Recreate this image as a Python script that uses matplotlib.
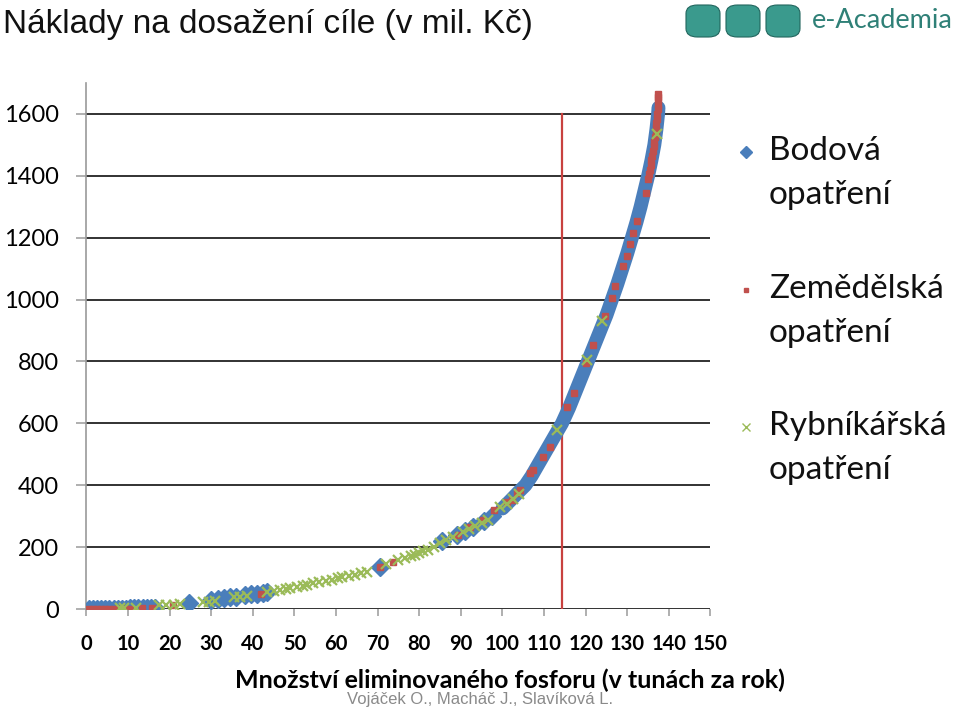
import matplotlib
matplotlib.use("Agg")
import matplotlib.pyplot as plt
from matplotlib.patches import FancyBboxPatch
from matplotlib.lines import Line2D

# ---------------- data ----------------
title = "Náklady na dosažení cíle (v mil. Kč)"
xlabel = "Množství eliminovaného fosforu (v tunách za rok)"
credit = "Vojáček O., Macháč J., Slavíková L."
series_names = ["Bodová\nopatření", "Zemědělská\nopatření", "Rybníkářská\nopatření"]

x_ticks = [0, 10, 20, 30, 40, 50, 60, 70, 80, 90, 100, 110, 120, 130, 140, 150]
y_ticks = [0, 200, 400, 600, 800, 1000, 1200, 1400, 1600]

# Bodová opatření (point sources) – isolated points
bod_x = [0.5, 1.5, 2.5, 3.5, 4.5, 5.5, 6.5, 7.5, 8.5, 9.5, 10.5, 11.5, 12.5, 13.5,
         14.5, 15.5, 16.5, 24.6, 30, 31.5, 33, 34.5, 36, 38, 39.5, 41, 42.5, 43.5,
         70.5, 85.5, 89, 91, 93, 95.5, 97.5]
bod_y = [0, 0, 0, 0.5, 0.5, 1, 1, 1, 1.5, 1.5, 2, 2, 2.5, 2.5,
         3, 3, 3.5, 19, 30, 33, 36, 38, 40, 44, 47, 50, 52, 54,
         135, 220, 240, 252, 265, 285, 300]
# Bodová opatření – dense run of points (upper part of the curve)
bod_dense_x = [100, 102, 104, 105.5, 107, 108.5, 110, 111.5, 113, 114.3, 116, 117.5,
               119, 120.5, 122, 123.5, 125, 126.3, 127.6, 128.8, 130, 131.1, 132.2,
               133.2, 134.1, 135, 135.8, 136.5, 137, 137.4, 137.5]
bod_dense_y = [325, 352, 380, 400, 430, 465, 500, 535, 570, 600, 650, 700,
               750, 800, 850, 900, 950, 1000, 1050, 1100, 1150, 1200, 1250,
               1300, 1350, 1400, 1450, 1500, 1550, 1600, 1620]

# Zemědělská opatření (agricultural)
zem_x = [0.5, 1.5, 2.5, 3.5, 4.5, 5.5, 6.5, 7.5, 8.5, 9.5, 10.5, 13.3, 15.7, 20.8,
         42.0, 70.5, 73.6, 89.3, 92.2, 95.3, 98, 101, 102.3, 103.5, 104.2, 106.6,
         107.3, 109.7, 111.4, 115.5, 117.2, 120, 121.8, 124.6, 126.3, 127, 129,
         130, 130.7, 131.4, 132.3, 134.5, 135, 135.2, 135.4, 135.6, 135.8, 136.0,
         136.2, 136.35, 136.5, 136.65, 136.8, 136.9, 137, 137.1, 137.2, 137.3,
         137.4, 137.45, 137.5, 137.5]
zem_y = [0, 0, 0, 0, 0.5, 0.5, 1, 1, 1, 1.5, 1.5, 3, 4, 13,
         48, 135, 152, 239, 265, 287, 319, 345, 352, 374, 384, 439,
         448, 490, 523, 652, 697, 794, 852, 948, 1006, 1045, 1110,
         1142, 1180, 1216, 1255, 1345, 1390, 1405, 1420, 1435, 1450, 1465,
         1480, 1495, 1510, 1525, 1540, 1555, 1570, 1585, 1600, 1615,
         1630, 1645, 1655, 1665]

# Rybníkářská opatření (fishponds)
ryb_x = [8, 9, 12, 17.5, 19, 21, 22.5, 28, 29.5, 31, 35.5, 37, 38.5, 43.5, 45,
         46.5, 48, 49, 50.5, 52, 53, 54.5, 56, 57.5, 59, 60.5, 61.5, 63, 64.5,
         66, 67.5, 72, 75, 76.5, 78, 79, 80, 81, 82, 83.5, 85, 86.5, 88, 90.5,
         92, 93.5, 95, 96.5, 99.5, 101, 102.5, 104, 113, 120.3, 124, 137.1]
ryb_y = [2, 2, 3, 12, 13, 14, 15, 22, 23, 25, 38, 40, 42, 55, 58,
         62, 65, 68, 71, 75, 79, 83, 87, 91, 95, 99, 103, 107, 111,
         116, 121, 145, 158, 164, 170, 175, 180, 186, 192, 200, 213, 222, 232, 248,
         258, 268, 278, 288, 329, 340, 355, 372, 577, 806, 930, 1535]

# vertical reference line (target)
target_x = [114.2, 114.2]
target_y = [0, 1600]

# ---------------- style ----------------
BLUE = "#4A7EBB"
RED = "#C0504D"
GREEN = "#9BBB59"
LINE_RED = "#C8413F"

plt.rcParams["font.family"] = ["Lato", "DejaVu Sans"]

fig = plt.figure(figsize=(9.6, 7.08), dpi=100)
ax = fig.add_axes([0.0901, 0.1398, 0.650, 0.743])
ax.set_xlim(0, 150)
ax.set_ylim(0, 1700)

# gridlines
for yv in y_ticks:
    ax.axhline(yv, color="#222222", lw=1.3, zorder=1)

ax.plot(target_x, target_y, color=LINE_RED, lw=1.6, zorder=2)

# series
ax.plot(bod_dense_x, bod_dense_y, color=BLUE, lw=10, solid_capstyle="round",
        solid_joinstyle="round", zorder=3)
ax.plot(bod_x, bod_y, ls="none", marker="D", ms=9, color=BLUE, mec=BLUE, zorder=3)
ax.plot(zem_x, zem_y, ls="none", marker="s", ms=4.5, color=RED, mec=RED, zorder=4)
ax.plot(ryb_x, ryb_y, ls="none", marker="x", ms=6.5, mew=1.6, color=GREEN, zorder=5)

# axes styling
for s in ["top", "right", "bottom"]:
    ax.spines[s].set_visible(False)
ax.spines["left"].set_color("#9a9a9a")
ax.spines["left"].set_linewidth(1.2)
ax.set_xticks(x_ticks)
ax.set_yticks(y_ticks)
ax.set_xticklabels([str(v) for v in x_ticks], fontweight="bold", fontsize=14.5)
ax.set_yticklabels([str(v) for v in y_ticks], fontweight="normal", fontsize=17)
ax.tick_params(axis="x", direction="out", length=5, width=1.1, color="#9a9a9a", pad=13)
ax.tick_params(axis="y", direction="out", length=7, width=1.1, color="#9a9a9a", pad=13)

# legend (manual, like Excel: marker beside first line)
leg_markers = [dict(marker="D", ms=6, color=BLUE),
               dict(marker="s", ms=3, color=RED),
               dict(marker="x", ms=6, mew=1, color=GREEN)]
leg_first_line_y = [152, 290, 427]   # pixel rows from top
for name, mk, ypx in zip(series_names, leg_markers, leg_first_line_y):
    yf = 1 - ypx / 708
    fig.add_artist(Line2D([746 / 960], [yf], ls="none", transform=fig.transFigure, **mk))
    fig.text(769 / 960, yf + 16 / 708, name, fontsize=24, va="top", ha="left",
             linespacing=1.6, color="#111111")

# texts
fig.text(0.003, 0.953, title, fontsize=24, family=["Liberation Sans", "DejaVu Sans"],
         va="baseline", ha="left", color="#111111")
fig.text(0.531, 0.039, xlabel, fontsize=18, fontweight="bold", ha="center", va="center")
fig.text(0.500, 0.012, credit, fontsize=12, color="#8a8a8a", ha="center", va="center",
         family=["Liberation Sans Narrow", "Liberation Sans", "DejaVu Sans"])

# logo
for i in range(3):
    x0 = (686 + i * 40) / 960
    fig.patches.append(FancyBboxPatch((x0, 1 - 37 / 708), 34 / 960, 32 / 708,
                                      boxstyle="round,pad=0,rounding_size=0.012",
                                      transform=fig.transFigure, facecolor="#3A9A8D",
                                      edgecolor="#22665E", lw=0.8))
fig.text(812 / 960, 1 - 20 / 708, "e-Academia", fontsize=19.5, color="#2F8077",
         family=["Lato", "DejaVu Sans"], fontweight="normal", va="center", ha="left")

fig.savefig("out.png", dpi=100)
